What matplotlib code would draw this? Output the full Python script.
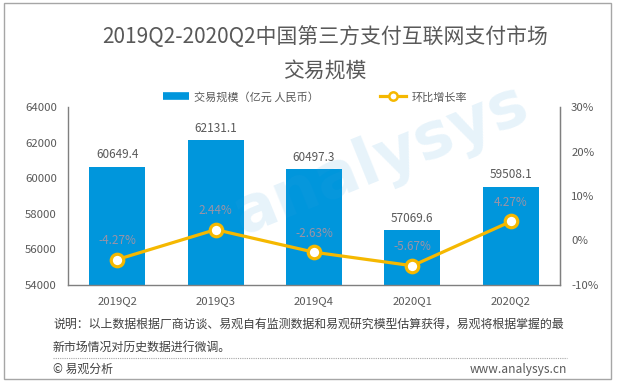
import matplotlib
matplotlib.use("Agg")
import matplotlib.pyplot as plt
from matplotlib.lines import Line2D
from matplotlib.patches import Rectangle

plt.rcParams['font.family'] = ['Noto Sans CJK SC', 'DejaVu Sans']

categories = ['2019Q2', '2019Q3', '2019Q4', '2020Q1', '2020Q2']
volume = [60649.4, 62131.1, 60497.3, 57069.6, 59508.1]
growth = [-4.27, 2.44, -2.63, -5.67, 4.27]
left_ticks = [54000, 56000, 58000, 60000, 62000, 64000]
right_ticks = [-10, 0, 10, 20, 30]

title1 = '2019Q2-2020Q2中国第三方支付互联网支付市场'
title2 = '交易规模'
legend_bar = '交易规模（亿元 人民币）'
legend_line = '环比增长率'
note1 = '说明：以上数据根据厂商访谈、易观自有监测数据和易观研究模型估算获得，易观将根据掌握的最'
note2 = '新市场情况对历史数据进行微调。'
src_left = '© 易观分析'
src_right = 'www.analysys.cn'

BLUE = '#0096DC'
GOLD = '#F5B800'
TXT = '#595959'

W, H = 617, 384
fig = plt.figure(figsize=(W / 100, H / 100), dpi=100)

# outer frame
fig.patches.append(Rectangle((4 / W, 1 - 379 / H), 607 / W, 376 / H, transform=fig.transFigure,
                             fill=False, edgecolor='#a6a6a6', linewidth=1.0))

ax = fig.add_axes([68 / W, 1 - 285 / H, (560 - 68) / W, (285 - 107) / H])
x = list(range(len(categories)))
ax.bar(x, [v - 54000 for v in volume], bottom=54000, width=0.57, color=BLUE, zorder=2)
ax.set_xlim(-0.5, 4.5)
ax.set_ylim(54000, 64000)
ax.set_yticks(left_ticks)
ax.set_yticklabels([str(t) for t in left_ticks])
ax.set_xticks(x)
ax.set_xticklabels(categories)
ax.tick_params(axis='both', length=0, labelsize=8.2, colors=TXT)
ax.tick_params(axis='y', pad=8)
ax.tick_params(axis='x', pad=8)
for s in ['top']:
    ax.spines[s].set_visible(False)
for s in ['left', 'bottom', 'right']:
    ax.spines[s].set_color('#7f7f7f')
    ax.spines[s].set_linewidth(1.0)

for xi, v in zip(x, volume):
    ax.annotate(f'{v:.1f}', (xi, v), xytext=(0, 4), textcoords='offset points',
                ha='center', va='bottom', fontsize=8.5, color=TXT)

ax2 = ax.twinx()
ax2.set_ylim(-10, 30)
ax2.set_yticks(right_ticks)
ax2.set_yticklabels([f'{t}%' for t in right_ticks])
ax2.tick_params(axis='y', length=0, labelsize=8.2, colors=TXT, pad=8)
for s in ['top', 'left', 'bottom']:
    ax2.spines[s].set_visible(False)
ax2.spines['right'].set_color('#7f7f7f')
ax2.plot(x, growth, color=GOLD, linewidth=2.3, marker='o', markersize=9,
         markerfacecolor='white', markeredgecolor=GOLD, markeredgewidth=2.3, zorder=3)
for xi, g in zip(x, growth):
    ax2.annotate(f'{g:.2f}%', (xi, g), xytext=(0, 9), textcoords='offset points',
                 ha='center', va='bottom', fontsize=8.5, color='#9b93a6')

# watermark
fig.text(380 / W, 1 - 160 / H, 'analysys', fontsize=46, color='#3aa0dc', alpha=0.12,
         rotation=22, ha='center', va='center', fontweight='bold', family='DejaVu Sans')

# titles
fig.text(325 / W, 1 - 37 / H, title1, ha='center', va='center', fontsize=15, color=TXT)
fig.text(325 / W, 1 - 72 / H, title2, ha='center', va='center', fontsize=15, color=TXT)

# legend
handles = [Line2D([0], [0], color=BLUE, linewidth=5.5, solid_capstyle='butt'),
           Line2D([0], [0], color=GOLD, linewidth=2.3, marker='o', markersize=6,
                  markerfacecolor='white', markeredgecolor=GOLD, markeredgewidth=1.8)]
leg = fig.legend(handles, [legend_bar, legend_line], loc='center', ncol=2,
                 bbox_to_anchor=(315 / W, 1 - 97 / H), frameon=False, fontsize=8,
                 handlelength=2.3, handletextpad=0.5, columnspacing=5.5)
for t in leg.get_texts():
    t.set_color(TXT)

# notes
fig.text(53 / W, 1 - 324 / H, note1, ha='left', va='center', fontsize=8.6, color='#404040')
fig.text(53 / W, 1 - 347 / H, note2, ha='left', va='center', fontsize=8.6, color='#404040')
fig.add_artist(Line2D([53 / W, 567 / W], [1 - 358 / H, 1 - 358 / H], transform=fig.transFigure,
                      color='#a6a6a6', linewidth=0.8, linestyle=(0, (1, 1))))
fig.text(53 / W, 1 - 369 / H, src_left, ha='left', va='center', fontsize=8.6, color='#404040')
fig.text(567 / W, 1 - 369 / H, src_right, ha='right', va='center', fontsize=8.6, color='#595959')

fig.savefig('out.png', dpi=100)
